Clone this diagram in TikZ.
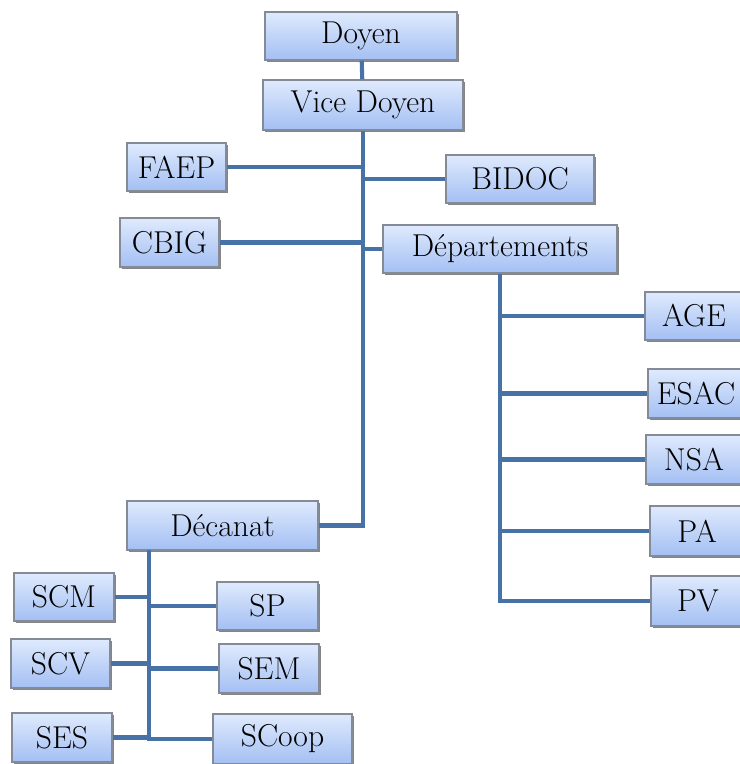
\documentclass[tikz,border=0pt]{standalone}
\usepackage{xcolor}
\usepackage{tikz}
\usetikzlibrary{shadows}

\definecolor{boxtop}{HTML}{DFEAFD}
\definecolor{boxbot}{HTML}{A3BFF3}
\definecolor{boxline}{HTML}{858B96}
\definecolor{linkblue}{HTML}{4672A8}

\tikzset{
  box/.style={rectangle, draw=boxline, line width=0.8pt, inner sep=0pt,
    top color=boxtop, bottom color=boxbot,
    drop shadow={shadow xshift=1.4pt, shadow yshift=-1.4pt, fill=black!60, opacity=0.8},
    font=\fontsize{22.5}{26}\selectfont},
  link/.style={draw=linkblue, line width=2.9pt}
}

\begin{document}
\begin{tikzpicture}[x=0.025cm, y=-0.025cm]
        \useasboundingbox (0,0) rectangle (740,764);
        % direction
        \node[box, minimum width=192*0.025cm, minimum height=48*0.025cm] (doyen) at (361,36)    {Doyen};
        \node[box, minimum width=200*0.025cm, minimum height=50*0.025cm] (vice)  at (363,105)   {Vice Doyen};
        \node[box, minimum width=99*0.025cm,  minimum height=48*0.025cm] (faep)  at (176.5,167) {FAEP};
        \node[box, minimum width=148*0.025cm, minimum height=48*0.025cm] (bidoc) at (520,179)   {BIDOC};
        \node[box, minimum width=99*0.025cm,  minimum height=49*0.025cm] (cbig)  at (169.5,242.5) {CBIG};
        \node[box, minimum width=234*0.025cm, minimum height=48*0.025cm] (dept)  at (500,249)   {Départements};
        % departements
        \node[box, minimum width=98*0.025cm, minimum height=48*0.025cm] (age)  at (694,316)   {AGE};
        \node[box, minimum width=96*0.025cm, minimum height=49*0.025cm] (esac) at (696,393.5) {ESAC};
        \node[box, minimum width=96*0.025cm, minimum height=49*0.025cm] (nsa)  at (694,459.5) {NSA};
        \node[box, minimum width=94*0.025cm, minimum height=50*0.025cm] (pa)   at (697,531)   {PA};
        \node[box, minimum width=94*0.025cm, minimum height=50*0.025cm] (pv)   at (698,601)   {PV};
        % decanat
        \node[box, minimum width=191*0.025cm, minimum height=49*0.025cm] (dec)   at (222.5,525.5) {Décanat};
        \node[box, minimum width=100*0.025cm, minimum height=48*0.025cm] (scm)   at (64,597)      {SCM};
        \node[box, minimum width=101*0.025cm, minimum height=48*0.025cm] (sp)    at (267.5,606)   {SP};
        \node[box, minimum width=99*0.025cm,  minimum height=49*0.025cm] (scv)   at (60.5,663.5)  {SCV};
        \node[box, minimum width=100*0.025cm, minimum height=49*0.025cm] (sem)   at (269,668.5)   {SEM};
        \node[box, minimum width=100*0.025cm, minimum height=49*0.025cm] (ses)   at (62,737.5)    {SES};
        \node[box, minimum width=139*0.025cm, minimum height=50*0.025cm] (scoop) at (282.5,739)   {SCoop};
        \coordinate (decs) at (149,550);
        % liens
        \draw[link] (doyen) -- (vice);
        \draw[link] (vice.south) -- (vice.south |- dec.east) -- (dec.east);
        \draw[link] (faep.east) -- (faep.east -| vice.south);
        \draw[link] (bidoc.west) -- (bidoc.west -| vice.south);
        \draw[link] (cbig.east) -- (cbig.east -| vice.south);
        \draw[link] (dept.west) -- (dept.west -| vice.south);
        \draw[link] (dept.south) -- (dept.south |- pv.west) -- (pv.west);
        \foreach \d in {age,esac,nsa,pa}
            \draw[link] (\d.west) -- (\d.west -| dept.south);
        \draw[link] (decs) -- (decs |- scoop.west) -- (scoop.west);
        \foreach \s in {scm,scv,ses}
            \draw[link] (\s.east) -- (\s.east -| decs);
        \foreach \s in {sp,sem}
            \draw[link] (\s.west) -- (\s.west -| decs);
    \end{tikzpicture}
\end{document}
